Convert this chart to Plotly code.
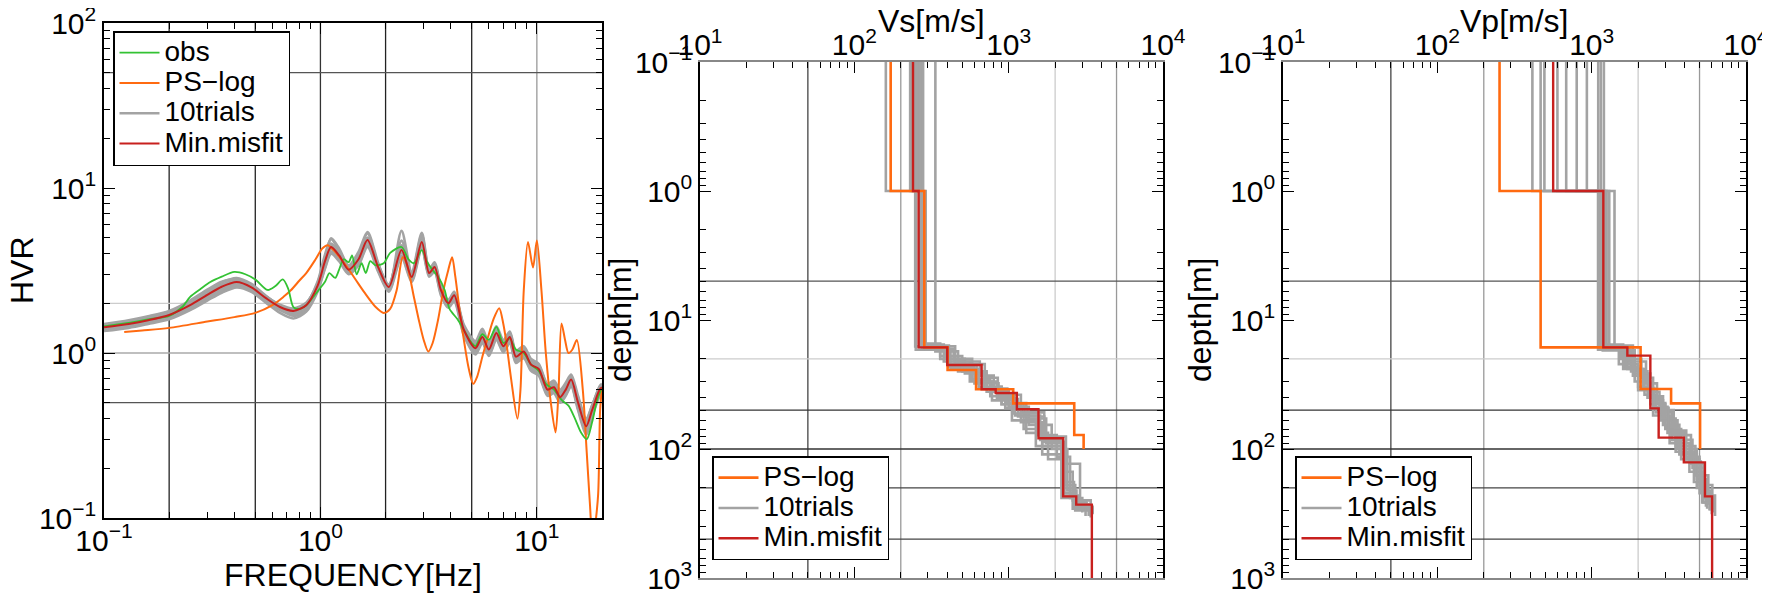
import plotly.graph_objects as go

# ==========================================
# Data
# ==========================================
# --- H/V spectral ratio (left panel) ---
F_OBS = [0.10, 0.13, 0.16, 0.20, 0.23, 0.25, 0.28, 0.31, 0.35, 0.40, 0.45, 0.50, 0.57, 0.62, 0.67,
         0.71, 0.75, 0.80, 0.86, 0.93, 0.98, 1.05, 1.10, 1.17, 1.22, 1.28, 1.35, 1.40, 1.47, 1.55,
         1.62, 1.70, 1.80, 1.96, 2.10, 2.37, 2.55, 2.70, 2.94, 3.10, 3.30, 3.50, 3.75, 3.95, 4.30,
         4.60, 5.00, 5.20, 5.60, 6.00, 6.50, 7.00, 7.50, 8.00, 8.70, 9.40, 10.2, 11.0, 12.0, 13.0,
         14.0, 15.0, 16.0, 17.0, 18.0, 19.0, 20.0]
HVR_OBS = [1.45, 1.52, 1.60, 1.68, 1.90, 2.19, 2.45, 2.69, 2.90, 3.10, 3.00, 2.79, 2.41, 2.55, 2.79,
           2.45, 1.90, 1.85, 1.95, 2.20, 2.40, 2.70, 3.05, 2.85, 3.20, 3.70, 3.55, 3.90, 3.00, 3.50,
           3.05, 3.60, 3.40, 3.50, 4.04, 4.39, 3.70, 3.50, 4.20, 3.60, 3.18, 2.90, 2.41, 1.85, 1.60,
           1.38, 1.15, 1.10, 1.30, 1.20, 1.44, 1.15, 1.22, 1.05, 1.00, 0.85, 0.78, 0.65, 0.60, 0.52,
           0.48, 0.40, 0.33, 0.30, 0.38, 0.52, 0.62]

F_PS = [0.124, 0.15, 0.20, 0.30, 0.40, 0.50, 0.60, 0.675, 0.73, 0.80, 0.86, 0.95, 1.02, 1.08, 1.15,
        1.29, 1.45, 1.60, 1.80, 1.96, 2.10, 2.25, 2.40, 2.50, 2.70, 2.85, 3.00, 3.15, 3.30, 3.50,
        3.70, 3.90, 4.06, 4.20, 4.40, 4.60, 4.85, 5.08, 5.30, 5.60, 6.00, 6.30, 6.70, 7.00, 7.20,
        7.60, 8.13, 8.40, 8.70, 9.10, 9.60, 10.0, 10.5, 11.0, 11.6, 12.2, 12.6, 13.0, 13.5, 14.0,
        14.6, 15.3, 16.3, 17.0, 17.6, 18.1, 18.6, 19.2, 19.6, 20.0]
HVR_PS = [1.34, 1.37, 1.42, 1.55, 1.65, 1.75, 1.95, 2.19, 2.40, 2.75, 3.05, 3.70, 4.30, 4.50, 4.20,
          3.50, 2.80, 2.32, 1.90, 1.75, 1.85, 2.40, 3.80, 3.50, 2.20, 1.58, 1.20, 1.02, 1.15, 1.60,
          2.40, 3.20, 3.80, 2.90, 1.80, 1.20, 0.80, 0.65, 0.72, 0.95, 1.30, 1.60, 1.87, 1.50, 1.20,
          0.70, 0.40, 0.60, 2.40, 4.70, 3.30, 4.80, 2.40, 1.00, 0.50, 0.33, 0.60, 1.51, 1.20, 1.00,
          1.05, 1.20, 0.60, 0.25, 0.12, 0.07, 0.09, 0.14, 0.45, 0.62]

F_MODEL = [0.10, 0.13, 0.16, 0.20, 0.25, 0.30, 0.35, 0.41, 0.48, 0.56, 0.65, 0.75, 0.86, 0.97, 1.05,
           1.12, 1.22, 1.35, 1.50, 1.65, 1.85, 2.07, 2.37, 2.64, 2.94, 3.18, 3.37, 3.60, 3.90, 4.15,
           4.60, 5.20, 5.60, 6.00, 6.50, 7.00, 7.50, 8.00, 8.70, 9.40, 10.2, 11.2, 12.0, 12.8, 13.6,
           14.4, 15.5, 16.9, 18.0, 19.5, 20.0]
HVR_MIN = [1.43, 1.50, 1.58, 1.70, 1.95, 2.25, 2.52, 2.69, 2.50, 2.15, 1.90, 1.80, 1.95, 2.55, 3.60,
           4.39, 3.90, 3.20, 3.70, 4.84, 3.30, 2.51, 4.21, 2.89, 4.71, 3.05, 3.32, 2.41, 2.00, 2.24,
           1.38, 1.07, 1.25, 1.05, 1.32, 1.10, 1.25, 0.95, 1.02, 0.85, 0.80, 0.60, 0.62, 0.54, 0.60,
           0.69, 0.50, 0.36, 0.45, 0.60, 0.62]
HVR_TRIALS = [
    [1.48, 1.56, 1.65, 1.78, 2.05, 2.38, 2.68, 2.85, 2.62, 2.22, 1.92, 1.78, 1.98, 2.70, 3.95,
     4.90, 4.20, 3.30, 3.95, 5.30, 3.40, 2.55, 4.80, 3.00, 5.20, 3.15, 3.50, 2.50, 2.05, 2.30,
     1.45, 1.15, 1.35, 1.12, 1.40, 1.18, 1.32, 1.00, 1.08, 0.90, 0.84, 0.63, 0.66, 0.58, 0.64,
     0.72, 0.53, 0.38, 0.47, 0.62, 0.64],
    [1.38, 1.45, 1.52, 1.63, 1.86, 2.12, 2.38, 2.55, 2.40, 2.08, 1.82, 1.70, 1.85, 2.40, 3.30,
     4.10, 3.70, 3.05, 3.45, 4.50, 3.15, 2.40, 3.90, 2.75, 4.40, 2.95, 3.15, 2.30, 1.92, 2.10,
     1.30, 1.00, 1.17, 0.98, 1.22, 1.03, 1.17, 0.89, 0.95, 0.80, 0.75, 0.56, 0.58, 0.51, 0.56,
     0.64, 0.46, 0.33, 0.42, 0.56, 0.58],
    [1.45, 1.52, 1.60, 1.74, 2.02, 2.34, 2.60, 2.72, 2.48, 2.10, 1.84, 1.72, 1.90, 2.62, 3.80,
     4.60, 4.05, 3.35, 3.85, 5.00, 3.45, 2.60, 4.50, 2.95, 4.95, 3.10, 3.40, 2.45, 2.02, 2.28,
     1.42, 1.10, 1.30, 1.08, 1.36, 1.13, 1.28, 0.97, 1.05, 0.87, 0.82, 0.61, 0.64, 0.55, 0.62,
     0.70, 0.51, 0.37, 0.46, 0.61, 0.63],
    [1.40, 1.47, 1.55, 1.67, 1.90, 2.18, 2.45, 2.62, 2.46, 2.14, 1.88, 1.76, 1.92, 2.48, 3.45,
     4.25, 3.80, 3.15, 3.60, 4.65, 3.25, 2.48, 4.05, 2.82, 4.55, 3.00, 3.25, 2.36, 1.96, 2.18,
     1.33, 1.03, 1.20, 1.01, 1.27, 1.06, 1.20, 0.91, 0.98, 0.82, 0.77, 0.58, 0.60, 0.52, 0.58,
     0.66, 0.48, 0.35, 0.43, 0.58, 0.60],
    [1.50, 1.58, 1.67, 1.80, 2.08, 2.42, 2.70, 2.80, 2.55, 2.18, 1.86, 1.68, 1.80, 2.50, 3.70,
     4.95, 4.30, 3.40, 4.10, 5.40, 3.50, 2.45, 5.50, 3.10, 5.35, 3.20, 3.55, 2.55, 2.10, 2.35,
     1.48, 1.18, 1.40, 1.15, 1.45, 1.20, 1.35, 1.03, 1.10, 0.92, 0.86, 0.65, 0.68, 0.60, 0.66,
     0.74, 0.55, 0.40, 0.48, 0.63, 0.65],
    [1.36, 1.42, 1.50, 1.60, 1.82, 2.08, 2.32, 2.50, 2.35, 2.02, 1.75, 1.62, 1.78, 2.35, 3.25,
     4.00, 3.60, 3.00, 3.40, 4.40, 3.10, 2.35, 3.80, 2.70, 4.30, 2.90, 3.10, 2.25, 1.88, 2.05,
     1.28, 0.98, 1.15, 0.96, 1.20, 1.01, 1.15, 0.87, 0.93, 0.78, 0.73, 0.55, 0.57, 0.50, 0.55,
     0.63, 0.45, 0.32, 0.41, 0.55, 0.57],
    [1.44, 1.51, 1.60, 1.72, 1.98, 2.30, 2.58, 2.76, 2.56, 2.20, 1.94, 1.84, 2.00, 2.65, 3.75,
     4.55, 4.00, 3.28, 3.80, 4.95, 3.38, 2.55, 4.35, 2.92, 4.85, 3.08, 3.38, 2.44, 2.02, 2.26,
     1.40, 1.09, 1.28, 1.07, 1.34, 1.12, 1.27, 0.96, 1.03, 0.86, 0.81, 0.61, 0.63, 0.55, 0.61,
     0.70, 0.51, 0.37, 0.46, 0.61, 0.63],
    [1.41, 1.48, 1.56, 1.68, 1.92, 2.20, 2.48, 2.66, 2.52, 2.20, 1.96, 1.86, 2.02, 2.60, 3.55,
     4.30, 3.85, 3.18, 3.65, 4.70, 3.28, 2.50, 4.10, 2.86, 4.60, 3.02, 3.28, 2.38, 1.98, 2.20,
     1.35, 1.05, 1.22, 1.03, 1.29, 1.08, 1.22, 0.93, 1.00, 0.83, 0.78, 0.59, 0.61, 0.53, 0.59,
     0.67, 0.49, 0.35, 0.44, 0.59, 0.61],
    [1.46, 1.54, 1.62, 1.75, 2.00, 2.30, 2.56, 2.70, 2.50, 2.16, 1.91, 1.82, 1.97, 2.58, 3.65,
     4.45, 3.95, 3.25, 3.75, 4.90, 3.35, 2.53, 4.30, 2.92, 4.80, 3.10, 3.36, 2.45, 2.04, 2.28,
     1.44, 1.14, 1.33, 1.12, 1.40, 1.17, 1.31, 1.00, 1.07, 0.89, 0.84, 0.64, 0.66, 0.57, 0.63,
     0.72, 0.53, 0.39, 0.48, 0.62, 0.64],
    [1.42, 1.49, 1.57, 1.69, 1.94, 2.24, 2.50, 2.66, 2.46, 2.12, 1.88, 1.78, 1.93, 2.52, 3.55,
     4.35, 3.88, 3.18, 3.68, 4.80, 3.28, 2.49, 4.15, 2.87, 4.65, 3.02, 3.28, 2.38, 1.97, 2.20,
     1.34, 1.02, 1.19, 1.00, 1.26, 1.05, 1.19, 0.90, 0.97, 0.81, 0.76, 0.57, 0.59, 0.51, 0.57,
     0.65, 0.47, 0.34, 0.43, 0.57, 0.59],
]

# --- Vs profiles (middle panel): layer top depths [m] and velocities [m/s] ---
VS_PS_DEPTH = [0.1, 1.0, 16.3, 24.4, 34.4, 44.3, 77.8, 100]
VS_PS = [172, 284, 402, 615, 1070, 2660, 3060, 3060]
VS_MIN_DEPTH = [0.1, 1.0, 16.3, 22.3, 34.4, 36.8, 49.2, 82.6, 233, 270, 1000]
VS_MIN = [240, 261, 400, 668, 824, 1130, 1560, 2255, 2740, 3460, 3460]
VS_TRIAL_DEPTHS = [
    [0.1, 1.0, 15.5, 21, 30, 42, 60, 95, 240, 300, 330],
    [0.1, 1.0, 17, 24, 33, 45, 70, 110, 220, 290, 320],
    [0.1, 16, 22, 28, 38, 52, 80, 130, 250, 340],
    [0.1, 1.0, 16.5, 20, 26, 36, 48, 75, 120, 230, 280, 310],
    [0.1, 15.8, 23, 31, 40, 55, 85, 200, 260, 300],
    [0.1, 1.0, 16.8, 21, 27, 35, 47, 65, 100, 210, 270, 320],
    [0.1, 17.5, 25, 34, 44, 58, 90, 150, 250, 330],
    [0.1, 1.0, 16, 20, 29, 39, 53, 78, 115, 240, 310],
    [0.1, 1.0, 15.2, 19, 25, 33, 45, 62, 95, 190, 280, 315],
    [0.1, 16.2, 22, 30, 41, 56, 88, 180, 270, 300],
]
VS_TRIALS = [
    [160, 270, 380, 560, 780, 1050, 1500, 2200, 2700, 3300, 3300],
    [236, 250, 420, 640, 900, 1250, 1650, 2300, 2600, 3500, 3500],
    [248, 450, 700, 850, 1200, 1700, 2350, 2900, 3400, 3400],
    [258, 275, 360, 520, 720, 950, 1300, 1800, 2250, 2800, 3350, 3350],
    [270, 410, 600, 860, 1100, 1600, 2200, 2650, 3200, 3200],
    [279, 290, 440, 650, 800, 1000, 1350, 1900, 2400, 2750, 3400, 3400],
    [335, 470, 720, 980, 1300, 1750, 2250, 2600, 3150, 3150],
    [230, 265, 390, 580, 760, 1080, 1550, 2050, 2500, 3000, 3000],
    [250, 262, 360, 500, 690, 900, 1200, 1650, 2300, 2700, 3500, 3500],
    [265, 400, 620, 840, 1150, 1700, 2300, 2650, 3300, 3300],
]

# --- Vp profiles (right panel) ---
VP_PS_DEPTH = [0.1, 1.0, 16.3, 34.3, 44.3, 100]
VP_PS = [253, 467, 2075, 3270, 5040, 5040]
VP_MIN_DEPTH = [0.1, 1.0, 16.3, 18.9, 48.4, 81.6, 127, 233, 1000]
VP_MIN = [563, 1190, 1703, 2400, 2717, 3956, 5420, 6030, 6030]
VP_TRIAL_DEPTHS = [
    [0.1, 1, 16, 22, 35, 55, 90, 150, 260, 320],
    [0.1, 1, 17, 25, 40, 60, 100, 170, 290],
    [0.1, 1, 15.5, 21, 30, 45, 70, 120, 220, 300],
    [0.1, 1, 16.5, 24, 38, 52, 85, 140, 240, 310],
    [0.1, 1, 16, 20, 28, 42, 65, 110, 200, 280],
    [0.1, 1, 17.2, 26, 36, 50, 78, 130, 230, 330],
    [0.1, 1, 16, 23, 33, 47, 75, 125, 210, 300],
    [0.1, 1, 16.6, 21, 31, 44, 68, 105, 180, 260, 300],
    [0.1, 1, 15.8, 27, 39, 58, 95, 160, 270],
    [0.1, 1, 16.4, 24, 34, 48, 72, 115, 190, 290],
]
VP_TRIALS = [
    [413, 1150, 1500, 2000, 2500, 3200, 4300, 5200, 6000, 6000],
    [467, 1100, 1800, 2300, 2800, 3600, 4800, 5600, 5600],
    [494, 1200, 1600, 1900, 2400, 3000, 3800, 5000, 5800, 5800],
    [684, 1120, 1700, 2200, 2600, 3300, 4500, 5400, 6200, 6200],
    [931, 1250, 1550, 2100, 2500, 2900, 3700, 4800, 5500, 5500],
    [1103, 1180, 1900, 2400, 2750, 3400, 4400, 5300, 6300, 6300],
    [1147, 1406, 1650, 2000, 2500, 3100, 4000, 5100, 5900, 5900],
    [1200, 1300, 1750, 2250, 2650, 3000, 3500, 4600, 5300, 6100, 6100],
    [600, 1150, 1850, 2350, 2900, 3500, 4700, 5700, 5700],
    [800, 1220, 1600, 2150, 2550, 3150, 4100, 5000, 6050, 6050],
]

for t in HVR_TRIALS:
    assert len(t) == len(F_MODEL)
for d, v in zip(VS_TRIAL_DEPTHS + VP_TRIAL_DEPTHS, VS_TRIALS + VP_TRIALS):
    assert len(d) == len(v)

# ==========================================
# Styling
# ==========================================
PAGE_OFF = 8                       # default body margin of the html page
W, H = 1770 - PAGE_OFF, 593 - PAGE_OFF
FONT = "Liberation Sans, Arial, Helvetica, sans-serif"
C_OBS = "#33c233"
C_PS = "#ff6a10"
C_TRIAL = "#a3a3a3"
C_MIN = "#c8201e"


def px_x(p):
    return (p - PAGE_OFF) / W


def px_y(p):
    return 1 - (p - PAGE_OFF) / H


def pow_label(e):
    return "10<sup>%s</sup>" % (str(e).replace("-", "\u2212"))


def leg_name(txt):
    # bigger glyphs than the legend row height would normally allow
    return '<span style="font-size:28px">%s</span>' % txt


def minor_vals(lo, hi):
    vals = []
    for e in range(lo, hi):
        for m in range(2, 10):
            vals.append(m * 10 ** e)
    return vals


def log_axis(tick_exps, minor, **kw):
    ax = dict(
        type="log", showline=True, linecolor="black", linewidth=1.5, mirror="allticks",
        ticks="inside", ticklen=11, tickwidth=1.4, tickcolor="black",
        showgrid=False, zeroline=False, automargin=False, ticklabeloverflow="allow",
        tickmode="array", tickvals=[10 ** e for e in tick_exps],
        ticktext=[pow_label(e) for e in tick_exps],
        tickfont=dict(size=30, color="black", family=FONT),
        minor=dict(ticks="inside", ticklen=6, tickwidth=1.2, tickcolor="black",
                   tickmode="array", tickvals=minor, showgrid=False),
    )
    ax.update(kw)
    return ax


fig = go.Figure()

# ---------------- left panel: HVR ----------------
for i, t in enumerate(HVR_TRIALS):
    fig.add_trace(go.Scatter(x=F_MODEL, y=t, mode="lines", name=leg_name("10trials"),
                             line=dict(color=C_TRIAL, width=2.6, shape="spline", smoothing=0.8),
                             legend="legend", legendgroup="tr1", showlegend=(i == 0),
                             legendrank=3, xaxis="x", yaxis="y"))
fig.add_trace(go.Scatter(x=F_PS, y=HVR_PS, mode="lines", name=leg_name("PS\u2212log"),
                         line=dict(color=C_PS, width=2, shape="spline", smoothing=0.8),
                         legend="legend", legendrank=2, xaxis="x", yaxis="y"))
fig.add_trace(go.Scatter(x=F_OBS, y=HVR_OBS, mode="lines", name=leg_name("obs"),
                         line=dict(color=C_OBS, width=1.8, shape="spline", smoothing=0.8),
                         legend="legend", legendrank=1, xaxis="x", yaxis="y"))
fig.add_trace(go.Scatter(x=F_MODEL, y=HVR_MIN, mode="lines", name=leg_name("Min.misfit"),
                         line=dict(color=C_MIN, width=2, shape="spline", smoothing=0.8),
                         legend="legend", legendrank=4, xaxis="x", yaxis="y"))


# ---------------- middle / right: velocity profiles ----------------
def add_profiles(xa, ya, leg, ps_d, ps_v, min_d, min_v, tr_d, tr_v):
    for i, (d, v) in enumerate(zip(tr_d, tr_v)):
        fig.add_trace(go.Scatter(x=v, y=d, mode="lines", line_shape="vh",
                                 name=leg_name("10trials"),
                                 line=dict(color=C_TRIAL, width=2.6), legend=leg,
                                 legendgroup="tr" + leg, showlegend=(i == 0), legendrank=2,
                                 xaxis=xa, yaxis=ya))
    fig.add_trace(go.Scatter(x=ps_v, y=ps_d, mode="lines", line_shape="vh",
                             name=leg_name("PS\u2212log"),
                             line=dict(color=C_PS, width=2.6), legend=leg, legendrank=1,
                             xaxis=xa, yaxis=ya))
    fig.add_trace(go.Scatter(x=min_v, y=min_d, mode="lines", line_shape="vh",
                             name=leg_name("Min.misfit"),
                             line=dict(color=C_MIN, width=2.4), legend=leg, legendrank=3,
                             xaxis=xa, yaxis=ya))


add_profiles("x2", "y2", "legend2", VS_PS_DEPTH, VS_PS, VS_MIN_DEPTH, VS_MIN,
             VS_TRIAL_DEPTHS, VS_TRIALS)
add_profiles("x3", "y3", "legend3", VP_PS_DEPTH, VP_PS, VP_MIN_DEPTH, VP_MIN,
             VP_TRIAL_DEPTHS, VP_TRIALS)

# ---------------- grid lines ----------------
def vgrid(xref, yref, x, color):
    fig.add_shape(type="line", xref=xref, yref=yref + " domain", x0=x, x1=x, y0=0, y1=1,
                  line=dict(color=color, width=1.3), layer="below")


def hgrid(xref, yref, y, color):
    fig.add_shape(type="line", xref=xref + " domain", yref=yref, x0=0, x1=1, y0=y, y1=y,
                  line=dict(color=color, width=1.3), layer="below")


for xv, c in [(0.2, "#222"), (0.5, "#222"), (1, "#333"), (2, "#222"), (5, "#222"), (10, "#999")]:
    vgrid("x", "y", xv, c)
for yv, c in [(50, "#555"), (2, "#ccc"), (1, "#aaa"), (0.5, "#555")]:
    hgrid("x", "y", yv, c)
for xa, ya in [("x2", "y2"), ("x3", "y3")]:
    for xv, c in [(50, "#444"), (200, "#999"), (2000, "#ccc"), (5000, "#999")]:
        vgrid(xa, ya, xv, c)
    for yv, c in [(5, "#555"), (20, "#ccc"), (50, "#333"), (100, "#333"), (200, "#444"), (500, "#444")]:
        hgrid(xa, ya, yv, c)

# ---------------- axes ----------------
dom_left_x = [px_x(104), px_x(602)]
dom_left_y = [px_y(518), px_y(23)]
dom_mid_x = [px_x(700), px_x(1163)]
dom_right_x = [px_x(1283), px_x(1746)]
dom_prof_y = [px_y(578), px_y(62)]

fig.update_layout(
    xaxis=log_axis([-1, 0, 1], minor_vals(-1, 2), range=[-1, 1.301], domain=dom_left_x, anchor="y",
                   ticklabelstandoff=-5),
    yaxis=log_axis([-1, 0, 1, 2], minor_vals(-1, 2), range=[-1, 2], domain=dom_left_y, anchor="x"),
    xaxis2=log_axis([1, 2, 3, 4], minor_vals(1, 4), range=[1, 4], domain=dom_mid_x, anchor="y2",
                    side="top", linecolor="#888", ticklabelstandoff=-7),
    yaxis2=log_axis([-1, 0, 1, 2, 3], minor_vals(-1, 3), range=[3, -1], domain=dom_prof_y, anchor="x2"),
    xaxis3=log_axis([1, 2, 3, 4], minor_vals(1, 4), range=[1, 4], domain=dom_right_x, anchor="y3",
                    side="top", linecolor="#888", ticklabelstandoff=-7),
    yaxis3=log_axis([-1, 0, 1, 2, 3], minor_vals(-1, 3), range=[3, -1], domain=dom_prof_y, anchor="x3"),
)

# ---------------- legends ----------------
leg_style = dict(font=dict(size=21, color="black", family=FONT), bgcolor="white",
                 bordercolor="black", borderwidth=1.5, xanchor="left", yanchor="top",
                 tracegroupgap=0, itemwidth=40, traceorder="normal")
fig.update_layout(
    legend=dict(x=px_x(113), y=px_y(31), **leg_style),
    legend2=dict(x=px_x(712), y=px_y(456), **leg_style),
    legend3=dict(x=px_x(1295), y=px_y(456), **leg_style),
)

# ---------------- axis titles ----------------
titles = [
    ("FREQUENCY[Hz]", 353, 575, 0),
    ("HVR", 22, 270, -90),
    ("Vs[m/s]", 931, 21, 0),
    ("depth[m]", 620, 320, -90),
    ("Vp[m/s]", 1514, 21, 0),
    ("depth[m]", 1200, 320, -90),
]
for txt, x, y, ang in titles:
    fig.add_annotation(text=txt, x=px_x(x), y=px_y(y), xref="paper", yref="paper",
                       showarrow=False, textangle=ang, xanchor="center", yanchor="middle",
                       font=dict(size=32, color="black", family=FONT))

fig.update_layout(
    width=W, height=H,
    margin=dict(l=0, r=0, t=0, b=0, pad=0, autoexpand=False),
    paper_bgcolor="white", plot_bgcolor="white",
    font=dict(family=FONT, color="black"),
)

fig.write_html("out.html")
